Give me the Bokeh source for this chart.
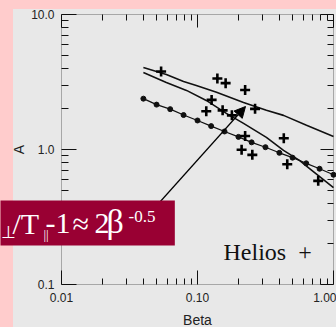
import math
from bokeh.plotting import figure
from bokeh.models import (LogAxis, FixedTicker, PrintfTickFormatter, BoxAnnotation,
                          Label, Arrow, NormalHead, Range1d)
from bokeh.embed import file_html
from bokeh.resources import INLINE

# ---------------- data ----------------
fit_beta = [0.04, 0.05, 0.063, 0.079, 0.10, 0.126, 0.158, 0.20, 0.25, 0.316,
            0.40, 0.50, 0.63, 0.79, 1.0]
fit_A = [2.38, 2.15, 1.99, 1.80, 1.64, 1.49, 1.36, 1.24, 1.13, 1.04,
         0.945, 0.87, 0.79, 0.72, 0.65]

upper_beta = [0.04, 0.059, 0.079, 0.098, 0.138, 0.218, 0.321, 0.429, 0.633, 1.0]
upper_A = [4.05, 3.59, 3.19, 2.98, 2.65, 2.23, 1.95, 1.79, 1.51, 1.25]

lower_beta = [0.04, 0.059, 0.083, 0.116, 0.163, 0.218, 0.321, 0.429, 0.562, 0.667, 1.0]
lower_A = [3.72, 3.14, 2.74, 2.31, 1.85, 1.56, 1.23, 0.985, 0.83, 0.723, 0.523]

helios_beta = [0.054, 0.140, 0.161, 0.224, 0.127, 0.116, 0.153, 0.179, 0.265,
               0.224, 0.431, 0.211, 0.253, 0.457, 0.772]
helios_A = [3.78, 3.36, 3.10, 2.76, 2.33, 1.92, 1.95, 1.79, 2.00,
            1.26, 1.21, 0.995, 0.913, 0.778, 0.586]

x_major = [0.01, 0.1, 1.0]
y_major = [0.1, 1.0, 10.0]
x_label = "Beta"
y_label = "A"
legend_text = "Helios\u00a0\u00a0+"

# ---------------- layout ----------------
W, H = 336, 327
FL, FR, FT, FB = 61, 333, 14, 284          # where the axes box sits on the page
X0, X1, Y0, Y1 = 0.01, 1.0, 0.1, 10.0

PINK = "#ffcccc"
GRAY = "#e8e8e8"
CRIMSON = "#990033"
INK = "#111111"
SANS = "Liberation Sans"
SERIF = "Liberation Serif"

# the plotting frame covers the whole canvas; the axes sit at fixed locations
xpd = (FR - FL) / (math.log10(X1) - math.log10(X0))   # pixels per decade
ypd = (FB - FT) / (math.log10(Y1) - math.log10(Y0))
x_lo = 10 ** (math.log10(X0) - FL / xpd)
x_hi = 10 ** (math.log10(X1) + (W - FR) / xpd)
y_lo = 10 ** (math.log10(Y0) - (H - FB) / ypd)
y_hi = 10 ** (math.log10(Y1) + FT / ypd)


def dx(px):
    return 10 ** (math.log10(X0) + (px - FL) / xpd)


def dy(py):
    return 10 ** (math.log10(Y0) + (FB - py) / ypd)


x_minor = [m * t for t in x_major[:-1] for m in range(2, 10)]
y_minor = [m * t for t in y_major[:-1] for m in range(2, 10)]

page_bg = ("linear-gradient(%s, %s) 13px 9px / %dpx %dpx no-repeat, %s"
           % (GRAY, GRAY, W - 13, H - 9, PINK))

p = figure(width=W, height=H, x_axis_type="log", y_axis_type="log",
           x_range=Range1d(x_lo, x_hi), y_range=Range1d(y_lo, y_hi),
           output_backend="svg", toolbar_location=None,
           min_border=0, min_border_left=0, min_border_right=0,
           min_border_top=0, min_border_bottom=0,
           background_fill_color=None, border_fill_color=None,
           outline_line_color=None,
           styles={"background": page_bg})
p.xgrid.visible = False
p.ygrid.visible = False


def style_axis(ax, ticks, minor, fixed, fmt, show_labels, maj, mnr):
    ax.ticker = FixedTicker(ticks=ticks, minor_ticks=minor)
    ax.formatter = PrintfTickFormatter(format=fmt)
    ax.fixed_location = fixed
    ax.axis_line_color = None
    ax.major_tick_line_color = INK
    ax.minor_tick_line_color = INK
    ax.major_tick_in = maj
    ax.major_tick_out = 0
    ax.minor_tick_in = mnr
    ax.minor_tick_out = 0
    if show_labels:
        ax.major_label_text_font = SANS
        ax.major_label_text_font_size = "12px"
        ax.major_label_text_color = "#222222"
    else:
        ax.major_label_text_font_size = "1px"
        ax.major_label_text_color = None
        ax.major_label_standoff = 0


xa = p.xaxis[0]
ya = p.yaxis[0]
style_axis(xa, x_major, x_minor, Y0, "%.2f", True, 14, 6)
style_axis(ya, y_major, y_minor, X0, "%.1f", True, 15, 7)
xa.major_label_standoff = 8
ya.major_label_standoff = 7

top = LogAxis()
style_axis(top, x_major, x_minor, Y1, "%.2f", False, 13, 6)
right = LogAxis()
style_axis(right, y_major, y_minor, X1, "%.1f", False, 13, 6)
p.add_layout(top, "above")
p.add_layout(right, "right")

# the axes box
p.add_layout(BoxAnnotation(left=X0, right=X1, bottom=Y0, top=Y1, fill_color=None,
                           line_color=INK, line_width=1))

# axis titles
p.add_layout(Label(x=math.sqrt(X0 * X1), y=dy(319.5), text=x_label, text_font=SANS,
                   text_font_size="14px", text_color="#222222",
                   text_align="center", text_baseline="middle"))
p.add_layout(Label(x=dx(18.5), y=math.sqrt(Y0 * Y1), text=y_label, text_font=SANS,
                   text_font_size="14px", text_color="#222222", angle=math.pi / 2,
                   text_align="center", text_baseline="middle"))

# curves
p.line(upper_beta, upper_A, line_color=INK, line_width=1.6)
p.line(lower_beta, lower_A, line_color=INK, line_width=1.6)
p.line(fit_beta, fit_A, line_color=INK, line_width=1.2)
p.scatter(fit_beta, fit_A, marker="circle", size=5, fill_color=INK, line_color=INK)
p.scatter(helios_beta, helios_A, marker="cross", size=10, line_width=2.6, line_color="black")

# arrow (drawn before the banner so that the banner covers its tail)
p.add_layout(Arrow(end=NormalHead(size=11, fill_color="black", line_color="black"),
                   x_start=dx(150), y_start=dy(212), x_end=dx(245), y_end=dy(106),
                   line_color="black", line_width=1.2))


def lab(txt, px, baseline, size, font=SERIF, color="white", **kw):
    # Bokeh draws the text so that its baseline falls ~0.38 em below y
    p.add_layout(Label(x=dx(px), y=dy(baseline - 0.38 * size), text=txt, text_font=font,
                       text_font_size="%dpx" % size, text_color=color,
                       text_align="left", text_baseline="alphabetic", **kw))


# banner: its crimson box is the background of the first piece of the formula
lab("T", -19, 234, 30, background_fill_color=CRIMSON, background_fill_alpha=1.0,
    padding=dict(left=0, right=175, top=7, bottom=5))
lab("\u22a5", 0, 238, 17)
lab("/T", 12, 234, 30)
lab("||", 43, 239, 13)
lab("-1", 45, 234, 30)
lab("\u2248", 72, 234, 30)
lab("2", 94, 234, 30)
lab("\u03b2", 106, 234, 34)
lab("-0.5", 128, 222, 17)

lab(legend_text, 223, 261, 24, color="#111111")

open("out.html", "w").write(file_html(p, INLINE))
